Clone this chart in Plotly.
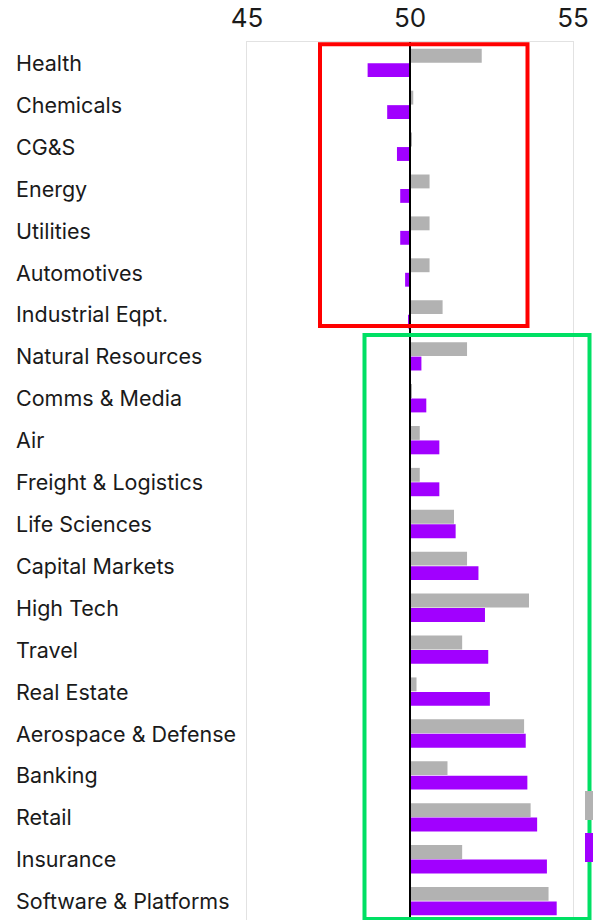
import plotly.graph_objects as go

# Index scores by industry (50 = neutral)
industries = [
    "Health", "Chemicals", "CG&S", "Energy", "Utilities", "Automotives",
    "Industrial Eqpt.", "Natural Resources", "Comms & Media", "Air",
    "Freight & Logistics", "Life Sciences", "Capital Markets", "High Tech",
    "Travel", "Real Estate", "Aerospace & Defense", "Banking", "Retail",
    "Insurance", "Software & Platforms",
]
prior_scores = [
    52.2, 50.1, 50.05, 50.6, 50.6, 50.6, 51.0, 51.75, 50.05, 50.3,
    50.3, 51.35, 51.75, 53.65, 51.6, 50.2, 53.5, 51.15, 53.7, 51.6, 54.25,
]
current_scores = [
    48.7, 49.3, 49.6, 49.7, 49.7, 49.85, 49.95, 50.35, 50.5, 50.9,
    50.9, 51.4, 52.1, 52.3, 52.4, 52.45, 53.55, 53.6, 53.9, 54.2, 54.5,
]
tick_values = [45, 50, 55]
baseline = 50

GRAY = "#b2b2b2"
PURPLE = "#a100ff"
FONT = "Inter"

W, H = 593, 920
ML, MR, MT, MB = 247, 20, 42, 0
plot_w = W - ML - MR
plot_h = H - MT - MB


def px_x(p):
    return (p - ML) / plot_w


def px_y(p):
    return 1 - (p - MT) / plot_h


fig = go.Figure()
for vals, color in [(prior_scores, GRAY), (current_scores, PURPLE)]:
    fig.add_trace(go.Bar(
        y=list(range(len(industries))),
        x=[v - baseline for v in vals],
        base=baseline,
        orientation="h",
        marker=dict(color=color, line=dict(width=0)),
        showlegend=False,
        hoverinfo="skip",
    ))

# industry labels, left aligned
for i, name in enumerate(industries):
    fig.add_annotation(
        x=px_x(14), xref="paper", xanchor="left",
        y=i, yref="y", yanchor="middle",
        text=name, showarrow=False,
        font=dict(family=FONT, size=21.5, color="#1a1a1a"),
    )

shapes = [
    # neutral line at 50
    dict(type="line", xref="x", yref="paper", x0=baseline, x1=baseline,
         y0=0, y1=1, line=dict(color="black", width=2), layer="above"),
    # red group box
    dict(type="rect", xref="paper", yref="paper",
         x0=px_x(320), x1=px_x(527.5), y0=px_y(326), y1=px_y(44.3),
         line=dict(color="#ff0000", width=4), layer="above"),
    # green group box
    dict(type="rect", xref="paper", yref="paper",
         x0=px_x(364.5), x1=px_x(589.5), y0=px_y(919), y1=px_y(335),
         line=dict(color="#00e064", width=4), layer="above"),
    # legend swatches at the right edge
    dict(type="rect", xref="paper", yref="paper",
         x0=px_x(585), x1=px_x(600), y0=px_y(820), y1=px_y(791),
         fillcolor=GRAY, line=dict(width=0)),
    dict(type="rect", xref="paper", yref="paper",
         x0=px_x(585), x1=px_x(600), y0=px_y(862), y1=px_y(833),
         fillcolor=PURPLE, line=dict(width=0)),
]

fig.update_layout(
    width=W, height=H,
    margin=dict(l=ML, r=MR, t=MT, b=MB, autoexpand=False),
    paper_bgcolor="white", plot_bgcolor="white",
    barmode="group", bargap=0.31, bargroupgap=0.04,
    shapes=shapes,
    xaxis=dict(
        side="top", range=[45, 55], tickvals=tick_values,
        ticks="outside", ticklen=4, tickcolor="rgba(0,0,0,0)",
        tickfont=dict(family=FONT, size=26, color="#1a1a1a"),
        showgrid=False, zeroline=False,
        showline=True, linecolor="#e2e2e2", linewidth=1, mirror=True,
    ),
    yaxis=dict(
        range=[20.45, -0.5], showticklabels=False, ticks="",
        showgrid=False, zeroline=False,
        showline=True, linecolor="#e2e2e2", linewidth=1, mirror=True,
    ),
)

fig.write_html("out.html")
